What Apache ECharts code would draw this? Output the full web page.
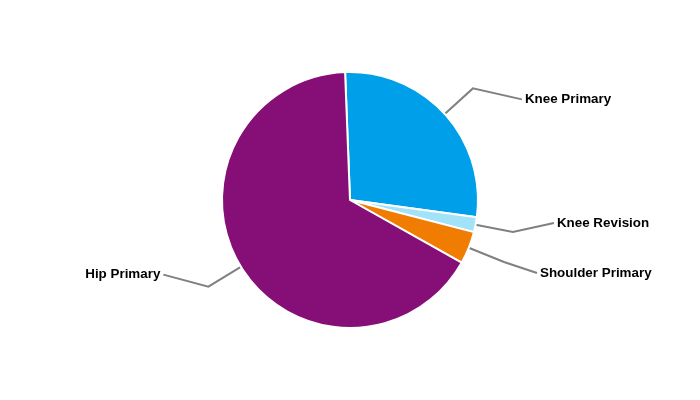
<!DOCTYPE html>
<html><head><meta charset="utf-8">
<script src="https://cdn.jsdelivr.net/npm/echarts@6/dist/echarts.min.js"></script>
<style>html,body{margin:0;padding:0;background:#fff}#c{width:700px;height:400px}</style>
</head><body><div id="c"></div>
<script>
const categories = ['Knee Primary', 'Knee Revision', 'Shoulder Primary', 'Hip Primary'];
const values = [27.75, 1.9, 4.1, 66.25];
const colors = ['#009FE9', '#A2E3FA', '#F07D02', '#850F77'];
// label nudges (layout only), in px
const labelShiftX = [4, -4, -12, 0];
const labelShiftY = [11, -9, 11, -12];

const chart = echarts.init(document.getElementById('c'), null, {renderer: 'canvas'});
chart.setOption({
  animation: false,
  backgroundColor: '#ffffff',
  series: [{
    type: 'pie',
    center: [350, 200],
    radius: 128,
    startAngle: 92.2,
    clockwise: true,
    avoidLabelOverlap: false,
    itemStyle: {borderColor: '#ffffff', borderWidth: 2},
    label: {
      show: true,
      position: 'outside',
      color: '#000',
      fontFamily: 'Liberation Sans, Arial, sans-serif',
      fontWeight: 'bold',
      fontSize: 13.4,
      distanceToLabelLine: 3
    },
    labelLine: {
      show: true,
      length: 38,
      length2: 45,
      lineStyle: {color: '#808080', width: 2}
    },
    labelLayout: function (p) {
      const i = p.dataIndex;
      const dx = labelShiftX[i], dy = labelShiftY[i];
      const pts = p.labelLinePoints;
      if (!pts) return {dx: dx, dy: dy};
      return {
        dx: dx, dy: dy,
        labelLinePoints: [pts[0].slice(), pts[1].slice(), [pts[2][0] + dx, pts[2][1] + dy]]
      };
    },
    emphasis: {disabled: true},
    data: categories.map((n, i) => ({name: n, value: values[i], itemStyle: {color: colors[i]}}))
  }]
});
</script></body></html>
